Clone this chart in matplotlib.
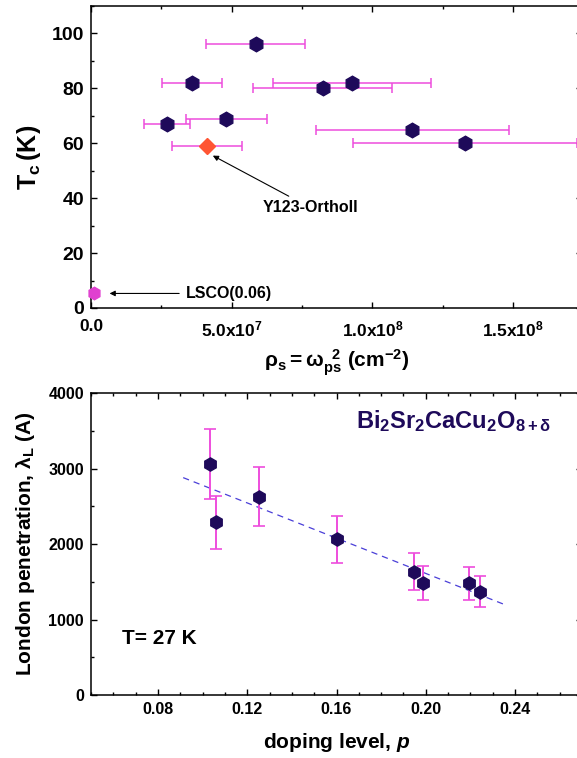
import matplotlib
matplotlib.use('Agg')
import matplotlib.pyplot as plt
from matplotlib.ticker import MultipleLocator

plt.rcParams['font.family'] = ['Liberation Sans', 'DejaVu Sans']
plt.rcParams['font.weight'] = 'bold'
plt.rcParams['mathtext.fontset'] = 'custom'
plt.rcParams['mathtext.rm'] = 'Liberation Sans:bold'
plt.rcParams['mathtext.bf'] = 'Liberation Sans:bold'
plt.rcParams['mathtext.it'] = 'Liberation Sans:bold:italic'

# --- data, top panel: Tc vs superfluid density ---
rho_s = [5.86e7, 3.58e7, 4.81e7, 2.69e7, 9.28e7, 8.23e7, 1.141e8, 1.329e8]
rho_err = [1.76e7, 1.07e7, 1.45e7, 0.82e7, 2.8e7, 2.48e7, 3.43e7, 3.99e7]
tc = [96, 82, 69, 67, 82, 80, 65, 60]

y123_rho = [4.13e7]
y123_err = [1.25e7]
y123_tc = [59]

lsco_rho = [1.2e6]
lsco_tc = [5.5]

rho_ticks = [0, 5e7, 1e8, 1.5e8]
rho_ticklabels = ['0.0', r'$\mathbf{5.0x10^7}$', r'$\mathbf{1.0x10^8}$', r'$\mathbf{1.5x10^8}$']
tc_ticks = [0, 20, 40, 60, 80, 100]

# --- data, bottom panel: London penetration vs doping ---
doping = [0.1031, 0.1058, 0.1252, 0.1602, 0.1947, 0.1986, 0.2192, 0.2244]
lam = [3063, 2290, 2630, 2065, 1635, 1481, 1481, 1370]
lam_err = [460, 350, 395, 310, 247, 225, 220, 205]
fit_p = [0.0913, 0.2366]
fit_lam = [2882, 1184]

p_ticks = [0.08, 0.12, 0.16, 0.20, 0.24]
p_ticklabels = ['0.08', '0.12', '0.16', '0.20', '0.24']
lam_ticks = [0, 1000, 2000, 3000, 4000]

navy = '#1e0a5a'
pink = '#ee4ddd'

fig = plt.figure(figsize=(5.77, 7.58), dpi=100)
ax1 = fig.add_axes([91/577, 1-308/758, 491/577, 302/758])
ax2 = fig.add_axes([91/577, 1-695/758, 491/577, 301.7/758])

# top panel
ax1.errorbar(rho_s, tc, xerr=rho_err, fmt='none', ecolor=pink, elinewidth=1.1,
             capsize=3.5, capthick=1.1, zorder=2)
ax1.plot(rho_s, tc, 'h', color=navy, ms=10.5, zorder=3)
ax1.errorbar(y123_rho, y123_tc, xerr=y123_err, fmt='none', ecolor=pink, elinewidth=1.1,
             capsize=3.5, capthick=1.1, zorder=2)
ax1.plot(y123_rho, y123_tc, 'D', color='#ff5533', ms=8, zorder=3)
ax1.plot(lsco_rho, lsco_tc, 'h', color='#e040d0', ms=9, zorder=3, clip_on=False)

ax1.annotate('Y123-OrthoII', xy=(4.33e7, 55.5), xytext=(6.1e7, 36.5),
             fontsize=11.5, fontweight='bold', ha='left', va='center',
             arrowprops=dict(arrowstyle='-|>', color='black', lw=0.8,
                             mutation_scale=8, shrinkA=2, shrinkB=0))
ax1.annotate('LSCO(0.06)', xy=(6.6e6, 5.3), xytext=(3.38e7, 5.3),
             fontsize=11.5, fontweight='bold', ha='left', va='center',
             arrowprops=dict(arrowstyle='-|>', color='black', lw=0.8,
                             mutation_scale=8, shrinkA=3, shrinkB=0))

ax1.set_xlim(0, 1.745e8)
ax1.set_ylim(0, 110)
ax1.set_xticks(rho_ticks)
ax1.set_xticklabels(rho_ticklabels, fontsize=12.5)
ax1.xaxis.set_minor_locator(MultipleLocator(2.5e7))
ax1.set_yticks(tc_ticks)
ax1.set_yticklabels([str(t) for t in tc_ticks], fontsize=14)
ax1.yaxis.set_minor_locator(MultipleLocator(10))
ax1.set_xlabel(r'$\mathbf{\rho_s = \omega_{ps}^{\ \ 2}\ (cm^{-2})}$', fontsize=15, labelpad=6)
ax1.set_ylabel(r'$\mathbf{T_c\,(K)}$', fontsize=18, labelpad=6)

# bottom panel
ax2.plot(fit_p, fit_lam, '--', color='#4a3fd8', lw=0.9, dashes=(5, 4), zorder=1)
ax2.errorbar(doping, lam, yerr=lam_err, fmt='none', ecolor=pink, elinewidth=1.4,
             capsize=4.5, capthick=1.2, zorder=2)
ax2.plot(doping, lam, 'h', color=navy, ms=9.5, zorder=3)

ax2.text(0.2125, 3630, r'$\mathbf{Bi_2Sr_2CaCu_2O_{8+\delta}}$', color=navy,
         fontsize=17, ha='center', va='center')
ax2.text(0.0805, 745, 'T= 27 K', fontsize=15, fontweight='bold', ha='center', va='center')

ax2.set_xlim(0.05, 0.27)
ax2.set_ylim(0, 4000)
ax2.set_xticks(p_ticks)
ax2.set_xticklabels(p_ticklabels, fontsize=11.5)
ax2.xaxis.set_minor_locator(MultipleLocator(0.01))
ax2.set_yticks(lam_ticks)
ax2.set_yticklabels([str(t) for t in lam_ticks], fontsize=11.5)
ax2.yaxis.set_minor_locator(MultipleLocator(500))
ax2.set_xlabel(r'doping level, $\mathit{p}$', fontsize=15, fontweight='bold', labelpad=10)
ax2.set_ylabel(r'London penetration, $\mathbf{\lambda_L}$ (A)', fontsize=15,
               fontweight='bold', labelpad=8)

for ax in (ax1, ax2):
    ax.tick_params(which='both', direction='in', top=True, right=True, width=1)
    ax.tick_params(which='major', length=4.5, pad=5)
    ax.tick_params(which='minor', length=2.5)
    for s in ax.spines.values():
        s.set_linewidth(1.1)
ax1.tick_params(axis='x', which='major', pad=8)

fig.savefig('out.png', dpi=100)
